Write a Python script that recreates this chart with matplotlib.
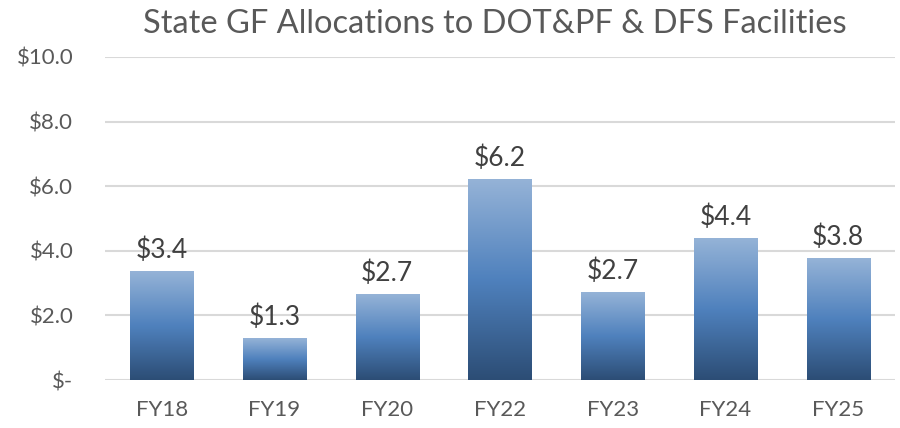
import matplotlib

matplotlib.use("Agg")
import matplotlib.pyplot as plt
import numpy as np
from matplotlib.colors import LinearSegmentedColormap

plt.rcParams["font.family"] = ["Lato", "DejaVu Sans"]

# ---- data -----------------------------------------------------------------
years = ["FY18", "FY19", "FY20", "FY22", "FY23", "FY24", "FY25"]
alloc = [3.36, 1.28, 2.66, 6.2, 2.7, 4.38, 3.76]  # $ millions
yticks = [0, 2, 4, 6, 8, 10]
ytick_labels = ["$-", "$2.0", "$4.0", "$6.0", "$8.0", "$10.0"]

TXT = "#595959"
LBL = "#404040"
GRID = "#D9D9D9"
grad = LinearSegmentedColormap.from_list("bar", ["#2C4D75", "#4F81BD", "#95B3D7"])

fig = plt.figure(figsize=(9, 4.28), dpi=100)
ax = fig.add_axes((0.117, 0.112, 0.877, 0.755))

x = np.arange(len(years))
bars = ax.bar(x, alloc, width=0.56, color="none", zorder=3)

# vertical gradient fill per bar
g = np.linspace(0, 1, 256).reshape(-1, 1)
for r in bars:
    x0, y0 = r.get_x(), r.get_y()
    ax.imshow(g, cmap=grad, origin="lower", aspect="auto", zorder=3,
              extent=(x0, x0 + r.get_width(), y0, y0 + r.get_height()))

for xi, v in zip(x, alloc):
    ax.annotate(f"${v:.1f}", (xi, v), xytext=(0, 6), textcoords="offset points",
                ha="center", va="bottom", fontsize=19, color=LBL)

ax.set_xlim(-0.5, len(years) - 0.5)
ax.set_ylim(0, 10)
ax.set_yticks(yticks)
ax.set_yticklabels(ytick_labels)
ax.set_xticks(x)
ax.set_xticklabels(years)
ax.tick_params(axis="both", length=0, labelsize=16, colors=TXT)
ax.tick_params(axis="y", pad=23)
ax.tick_params(axis="x", pad=14)
ax.grid(axis="y", color=GRID, lw=1.5, zorder=0)
for s in ax.spines.values():
    s.set_visible(False)

fig.text(0.55, 0.945, "State GF Allocations to DOT&PF & DFS Facilities",
         ha="center", va="center", fontsize=23.5, color=TXT)

fig.savefig("out.png", dpi=100)
